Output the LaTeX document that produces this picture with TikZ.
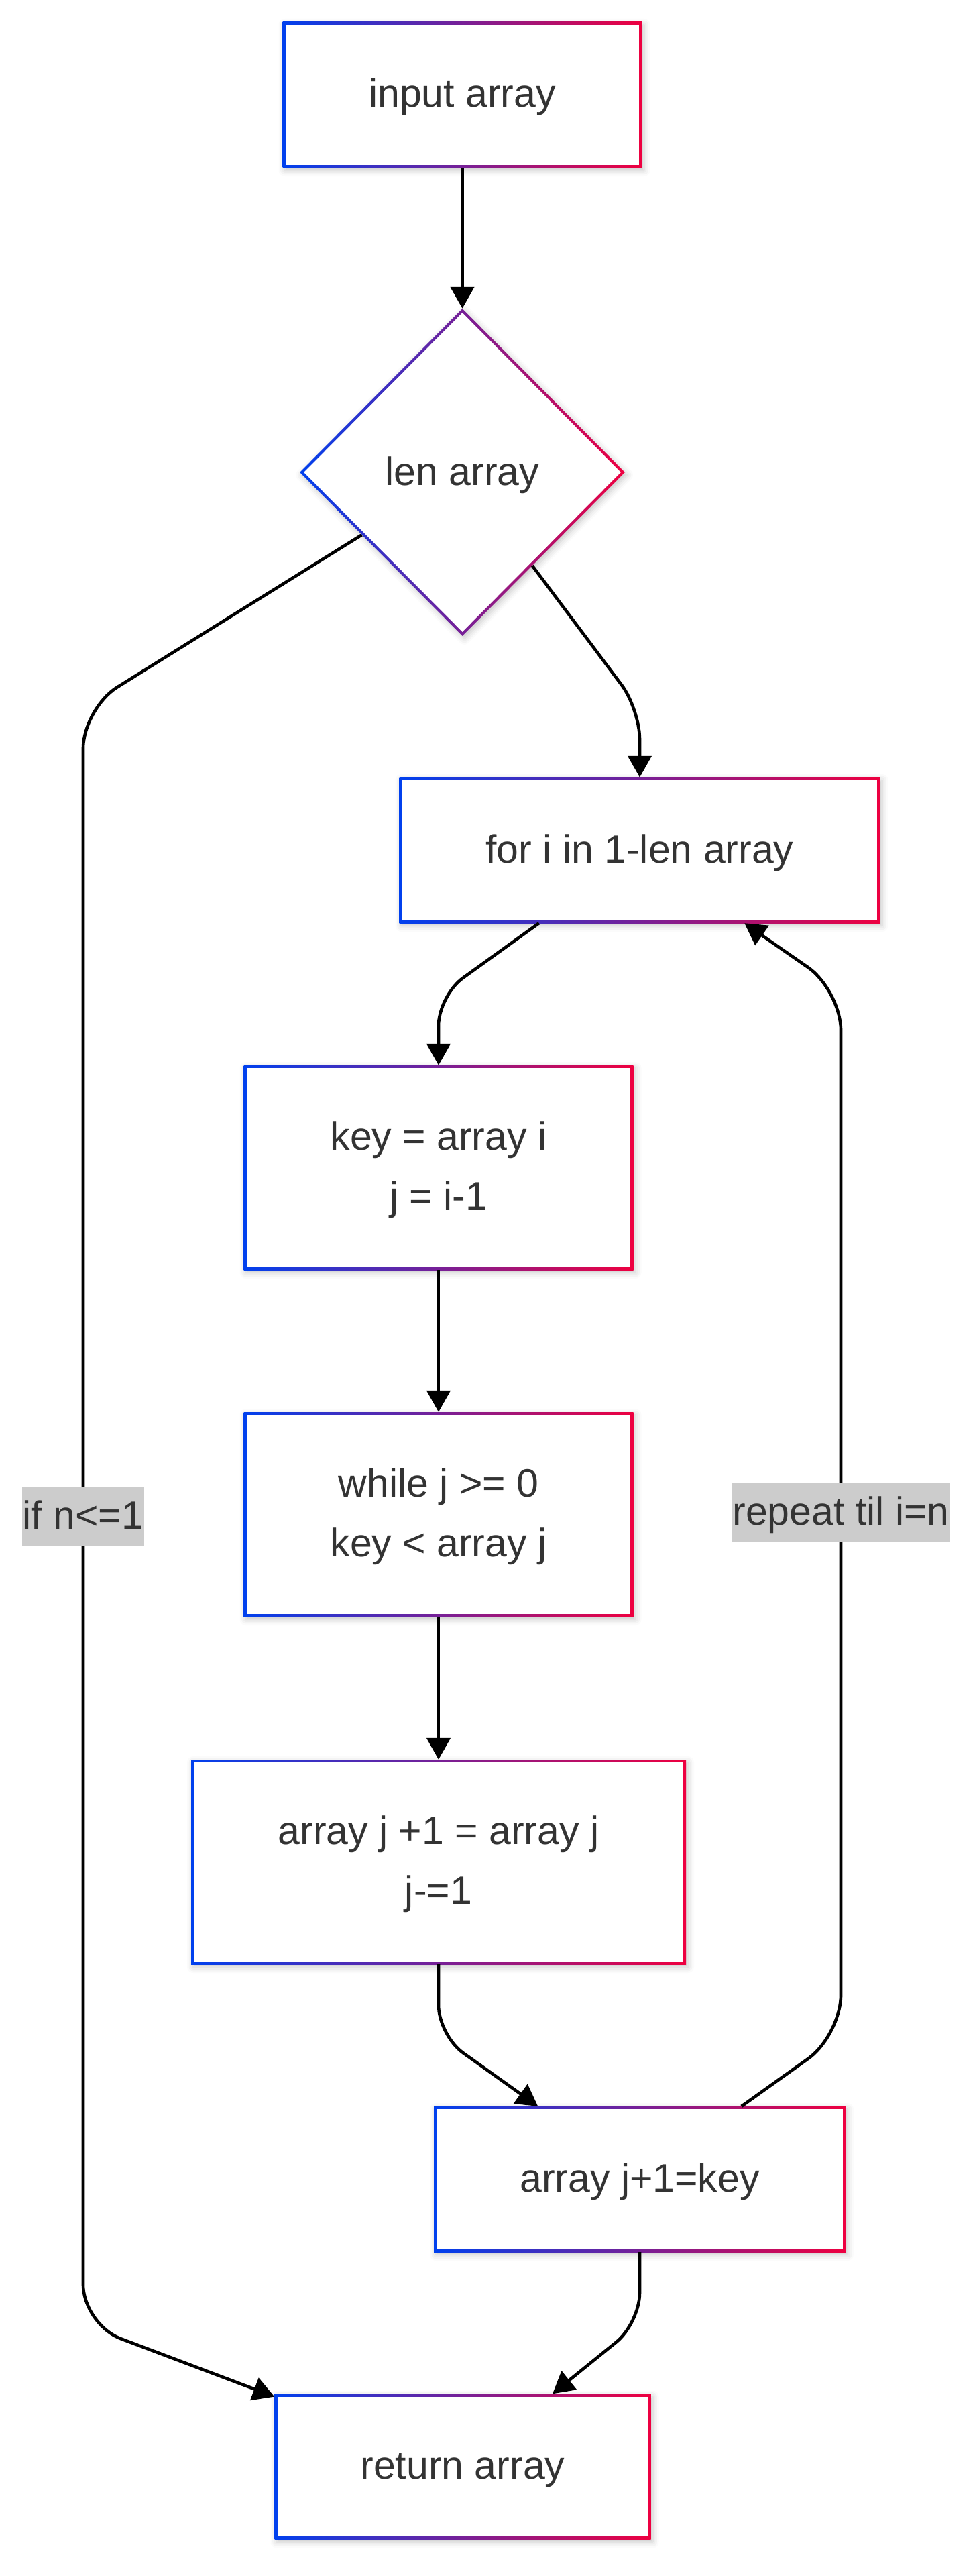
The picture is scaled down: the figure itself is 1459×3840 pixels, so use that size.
\documentclass[tikz,border=0pt]{standalone}
\usepackage{fontspec}
\setmainfont{Liberation Sans}
\usetikzlibrary{shapes.geometric,arrows.meta,shadows.blur,calc}
\definecolor{gblue}{HTML}{0040EE}
\definecolor{gred}{HTML}{EE0040}
\definecolor{tgray}{HTML}{333333}
\definecolor{lgray}{HTML}{CCCCCC}
\newcommand\mfs{\fontsize{59}{89}\selectfont}
\tikzset{
  shadowed/.style={blur shadow={shadow xshift=3pt, shadow yshift=-4pt, shadow blur radius=9pt, shadow opacity=22}},
  gbox/.style={rectangle, inner sep=0pt, left color=gblue, right color=gred, shadowed,
    text=tgray, font=\mfs, align=center, text height=37pt, text depth=0pt,
    path picture={\fill[white] ([shift={(4.3pt,-4.3pt)}]path picture bounding box.north west) rectangle ([shift={(-4.3pt,4.3pt)}]path picture bounding box.south east);}},
  twoline/.style={text height=126pt, text depth=0pt},
  gdiam/.style={diamond, inner sep=0pt, left color=gblue, right color=gred, shadowed,
    text=tgray, font=\mfs, text height=38pt, text depth=0pt,
    path picture={\fill[white] ([yshift=-6.1pt]path picture bounding box.north) -- ([xshift=-6.1pt]path picture bounding box.east) -- ([yshift=6.1pt]path picture bounding box.south) -- ([xshift=6.1pt]path picture bounding box.west) -- cycle;}},
  conn/.style={draw=black, line width=4.6pt, -{Triangle[length=32pt, width=35pt]}},
  lbl/.style={sharp corners, fill=lgray, text=tgray, font=\mfs, inner xsep=1pt, inner ysep=0pt,
    text height=37pt, text depth=0pt, minimum height=88pt},
}
\begin{document}
\begin{tikzpicture}[x=1pt, y=-1pt]
\useasboundingbox (0,0) rectangle (1459,3840);
% nodes
\node[gbox, minimum width=536pt, minimum height=217pt] (in) at (689.5,141.5) {input array};
\node[gdiam, minimum width=485pt, minimum height=488pt] (len) at (689.5,704) {len array};
\node[gbox, minimum width=717pt, minimum height=217pt] (for) at (954,1267.5) {for i in 1-len array};
\node[gbox, twoline, minimum width=581pt, minimum height=305pt] (key) at (654,1740.5) {key = array i\\j = i-1};
\node[gbox, twoline, minimum width=581pt, minimum height=305pt] (wh) at (654,2257.5) {while j >= 0\\key < array j};
\node[gbox, twoline, minimum width=738pt, minimum height=305pt] (arr) at (654,2775.5) {array j +1 = array j\\j-=1};
\node[gbox, minimum width=614pt, minimum height=217pt] (akey) at (954,3248.5) {array j+1=key};
\node[gbox, minimum width=561pt, minimum height=217pt] (ret) at (690,3677) {return array};
% waypoints
\coordinate (c1) at (124,1056);
\coordinate (c2) at (124,3465);
\coordinate (c3) at (954,1057);
\coordinate (c4) at (654,1484);
\coordinate (c5) at (654,3034);
\coordinate (c6) at (1254,3034);
\coordinate (c7) at (1254,1476);
\coordinate (c8) at (954,3463);
% connectors
\draw[conn] (in) -- (len);
\draw[conn, rounded corners=60pt] (len) -- (c1) -- node[lbl] {if n<=1} (c2) -- (ret);
\draw[conn, rounded corners=45pt] (len) -- (c3) -- (for);
\draw[conn, rounded corners=45pt] (for) -- (c4) -- (key);
\draw[conn] (key) -- (wh);
\draw[conn] (wh) -- (arr);
\draw[conn, rounded corners=45pt] (arr) -- (c5) -- (akey);
\draw[conn, rounded corners=60pt] (akey) -- (c6) -- node[lbl] {repeat til i=n} (c7) -- (for);
\draw[conn, rounded corners=45pt] (akey) -- (c8) -- (ret);
\end{tikzpicture}
\end{document}
